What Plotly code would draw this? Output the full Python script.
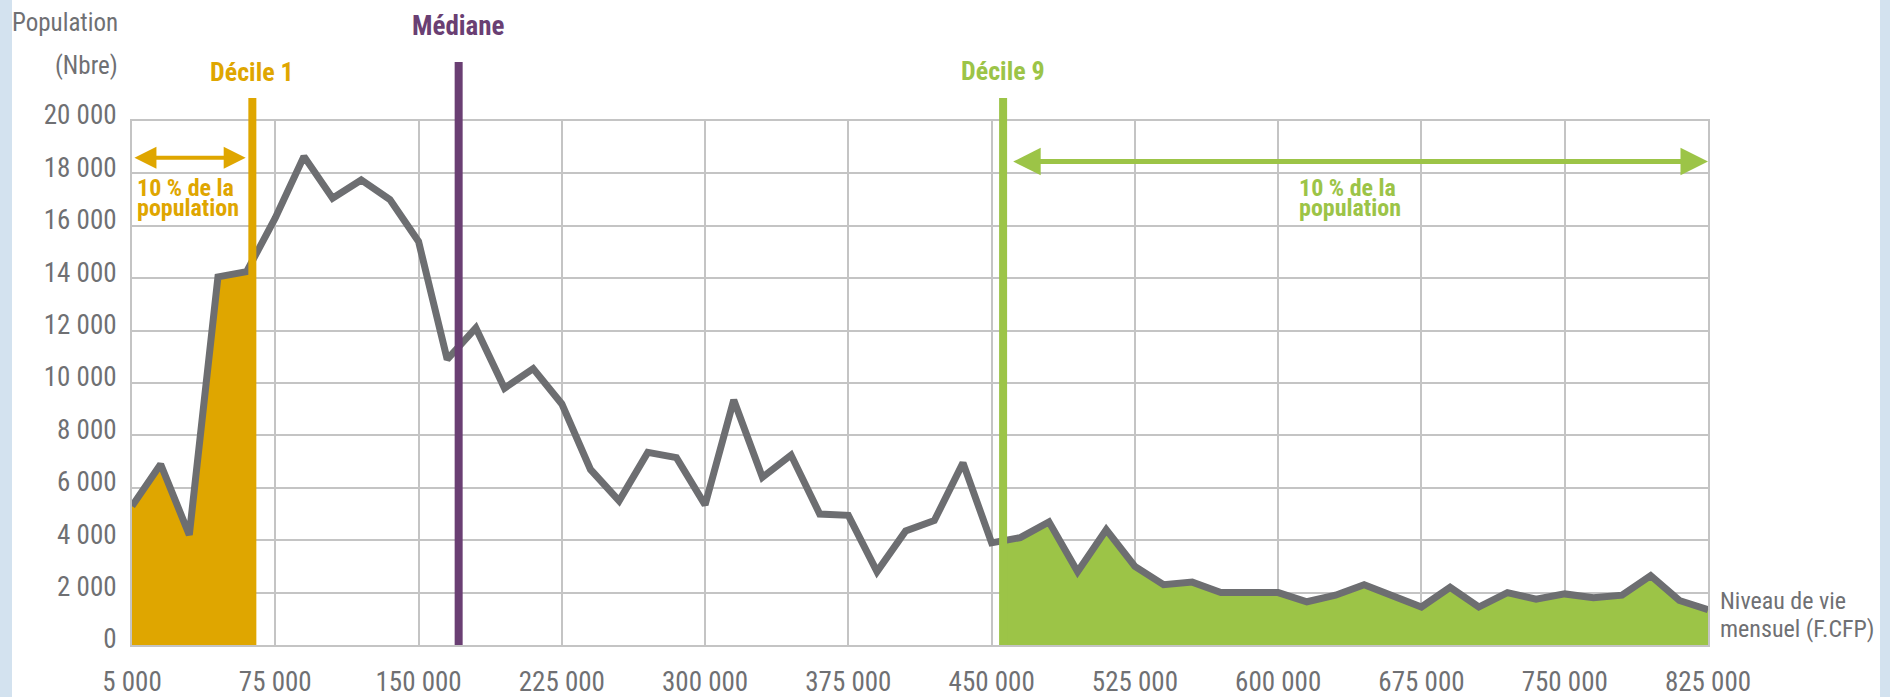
import numpy as np
import plotly.graph_objects as go

# ---- data ----
niveau = [0, 15000, 30000, 45000, 60000, 75000, 90000, 105000, 120000, 135000,
          150000, 165000, 180000, 195000, 210000, 225000, 240000, 255000, 270000, 285000,
          300000, 315000, 330000, 345000, 360000, 375000, 390000, 405000, 420000, 435000,
          450000, 465000, 480000, 495000, 510000, 525000, 540000, 555000, 570000, 585000,
          600000, 615000, 630000, 645000, 660000, 675000, 690000, 705000, 720000, 735000,
          750000, 765000, 780000, 795000, 810000, 825000]
population = [5300, 6900, 4200, 14050, 14250, 16300, 18650, 17050, 17750, 17000,
              15400, 10900, 12100, 9800, 10550, 9200, 6700, 5500, 7350, 7150,
              5350, 9350, 6400, 7250, 5000, 4950, 2800, 4350, 4750, 6950,
              3900, 4100, 4700, 2800, 4400, 3000, 2300, 2400, 2000, 2000,
              2000, 1650, 1900, 2300, 1850, 1450, 2200, 1450, 2000, 1750,
              1950, 1800, 1900, 2650, 1700, 1350]
x_tickvals = [0, 75000, 150000, 225000, 300000, 375000, 450000, 525000, 600000, 675000, 750000, 825000]
x_ticktext = ["5 000", "75 000", "150 000", "225 000", "300 000", "375 000", "450 000",
              "525 000", "600 000", "675 000", "750 000", "825 000"]
y_tickvals = [0, 2000, 4000, 6000, 8000, 10000, 12000, 14000, 16000, 18000, 20000]
decile1 = 63000
mediane = 171000
decile9 = 456000
arrow_y_d1 = 18600
arrow_y_d9 = 18450

GOLD = "#DFA600"
GREEN = "#9CC447"
PURPLE = "#6A3F73"
GREY = "#6D6E71"
TXT = "#6F7073"
GRID = "#C4C4C4"
BG = "#D3E2EF"
FONT = "Liberation Sans Narrow, Arial Narrow, Roboto Condensed, DejaVu Sans Condensed, Roboto, sans-serif"

W, H = 1890, 697
L, R, T, B = 132, 182, 121, 52
pw, ph = W - L - R, H - T - B


def px_x(p):
    return (p - L) / pw


def px_y(p):
    return (H - B - p) / ph


nx = np.array(niveau, dtype=float)
ny = np.array(population, dtype=float)

fig = go.Figure()

# gold area (below décile 1)
m1 = nx < decile1
gx = list(nx[m1]) + [decile1]
gy = list(ny[m1]) + [float(np.interp(decile1, nx, ny))]
fig.add_trace(go.Scatter(x=gx, y=gy, mode="lines", line=dict(width=0, color=GOLD),
                         fill="tozeroy", fillcolor=GOLD, hoverinfo="skip", showlegend=False))
# green area (above décile 9)
m9 = nx > decile9
hx = [decile9] + list(nx[m9])
hy = [float(np.interp(decile9, nx, ny))] + list(ny[m9])
fig.add_trace(go.Scatter(x=hx, y=hy, mode="lines", line=dict(width=0, color=GREEN),
                         fill="tozeroy", fillcolor=GREEN, hoverinfo="skip", showlegend=False))
# main line
fig.add_trace(go.Scatter(x=niveau, y=population, mode="lines",
                         line=dict(color=GREY, width=7), showlegend=False))

shapes = [
    dict(type="rect", xref="paper", yref="paper", x0=px_x(12), x1=px_x(1880),
         y0=px_y(H), y1=px_y(0), fillcolor="white", line=dict(width=0), layer="below"),
    dict(type="line", xref="x", yref="paper", x0=decile1, x1=decile1, y0=0, y1=px_y(98),
         line=dict(color=GOLD, width=8)),
    dict(type="line", xref="x", yref="paper", x0=mediane, x1=mediane, y0=0, y1=px_y(62),
         line=dict(color=PURPLE, width=8)),
    dict(type="line", xref="x", yref="paper", x0=decile9, x1=decile9, y0=0, y1=px_y(98),
         line=dict(color=GREEN, width=8)),
]


def label(x, y, text, size, color, xref="paper", xanchor="center"):
    return dict(x=x, y=y, xref=xref, yref="paper", xanchor=xanchor, yanchor="middle",
                text=text, showarrow=False, font=dict(family=FONT, size=size, color=color))


ann = []
# vertical line labels
ann.append(label(decile1, px_y(72), "<b>Décile 1</b>", 26, GOLD, xref="x"))
ann.append(label(mediane, px_y(26), "<b>Médiane</b>", 27, PURPLE, xref="x"))
ann.append(label(decile9, px_y(71), "<b>Décile 9</b>", 26, GREEN, xref="x"))
# arrows
ann.append(dict(x=decile1 - 3500, y=arrow_y_d1, ax=niveau[0] + 500, ay=arrow_y_d1,
                xref="x", yref="y", axref="x", ayref="y", text="", showarrow=True,
                arrowhead=2, arrowside="end+start", arrowsize=1.1, arrowwidth=4,
                arrowcolor=GOLD, standoff=0, startstandoff=0))
ann.append(dict(x=niveau[-1], y=arrow_y_d9, ax=decile9 + 4500, ay=arrow_y_d9,
                xref="x", yref="y", axref="x", ayref="y", text="", showarrow=True,
                arrowhead=2, arrowside="end+start", arrowsize=1.1, arrowwidth=5,
                arrowcolor=GREEN, standoff=0, startstandoff=0))
# "10 % de la population" labels
for xp, col in ((135, GOLD), (1297, GREEN)):
    ann.append(label(px_x(xp), px_y(188), "<b>10 % de la</b>", 24, col, xanchor="left"))
    ann.append(label(px_x(xp), px_y(208), "<b>population</b>", 24, col, xanchor="left"))
# axis titles
ann.append(label(px_x(120), px_y(22), "Population", 25, TXT, xanchor="right"))
ann.append(label(px_x(120), px_y(66), "(Nbre)", 25, TXT, xanchor="right"))
ann.append(label(px_x(1718), px_y(601), "Niveau de vie", 24, TXT, xanchor="left"))
ann.append(label(px_x(1718), px_y(629), "mensuel (F.CFP)", 24, TXT, xanchor="left"))

fig.update_layout(
    width=W, height=H,
    margin=dict(l=L, r=R, t=T, b=B, pad=0, autoexpand=False),
    paper_bgcolor=BG,
    plot_bgcolor="white",
    separators=", ",
    shapes=shapes,
    annotations=ann,
    font=dict(family=FONT, color=TXT),
    xaxis=dict(range=[niveau[0], niveau[-1]], tickvals=x_tickvals, ticktext=x_ticktext,
               showgrid=True, gridcolor=GRID, gridwidth=1.5, zeroline=False,
               showline=True, mirror=True, linecolor=GRID, linewidth=2, automargin=False,
               ticks="", ticklabelstandoff=12, tickfont=dict(family=FONT, size=27, color=TXT)),
    yaxis=dict(range=[0, 20000], tickvals=y_tickvals, tickformat=",d",
               showgrid=True, gridcolor=GRID, gridwidth=1.5, zeroline=False,
               showline=True, mirror=True, linecolor=GRID, linewidth=2, automargin=False,
               ticks="", ticklabelstandoff=8, ticklabelshift=-6,
               tickfont=dict(family=FONT, size=27, color=TXT)),
)

fig.write_html("out.html",
               config={"displayModeBar": False},
               post_script="document.body.style.margin='0';"
                           "document.body.style.background='" + BG + "';")
